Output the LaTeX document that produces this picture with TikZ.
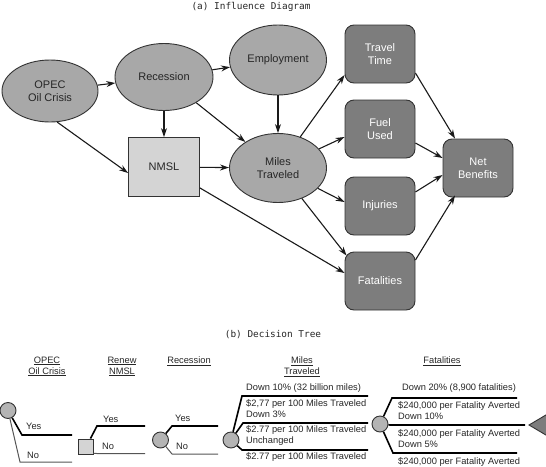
\documentclass[tikz,border=0pt]{standalone}
\usepackage{fontspec}
\setmainfont{Liberation Sans}
\newfontfamily\titlefont{DejaVu Sans Mono}
\usetikzlibrary{shapes.geometric,arrows.meta,calc}
\definecolor{ellfill}{HTML}{A8A8A8}
\definecolor{boxfill}{HTML}{7D7D7D}
\definecolor{nmslfill}{HTML}{D4D4D4}
\definecolor{chfill}{HTML}{B4B4B4}
\definecolor{edgec}{HTML}{333333}
\definecolor{arrc}{HTML}{1A1A1A}
\definecolor{textdark}{HTML}{262626}
\definecolor{nol}{HTML}{555555}
\begin{document}
\begin{tikzpicture}[x=1pt,y=-1pt,
  ell/.style={ellipse,draw=edgec,line width=0.9pt,fill=ellfill,inner sep=0pt,align=center,
    font=\fontsize{11}{13}\selectfont,text=textdark},
  rbox/.style={rectangle,rounded corners=9pt,draw=edgec,line width=0.9pt,fill=boxfill,
    minimum width=70pt,minimum height=58pt,inner sep=0pt,align=center,text=white,
    font=\fontsize{11}{13}\selectfont},
  arr/.style={-{Stealth[length=9pt,width=6pt]},line width=1.1pt,draw=arrc},
  ttl/.style={font=\titlefont\fontsize{9.4}{10}\selectfont,text=textdark,inner sep=0pt},
  hdr/.style={font=\fontsize{9.3}{11}\selectfont,align=center,inner sep=0pt,text=textdark},
  tl/.style={font=\fontsize{9.3}{11}\selectfont,align=left,anchor=west,inner sep=0pt,text=textdark},
  chance/.style={circle,draw=edgec,line width=0.9pt,fill=chfill,minimum size=16pt,inner sep=0pt},
  decis/.style={rectangle,draw=edgec,line width=0.9pt,fill=nmslfill,minimum size=15pt,inner sep=0pt},
  yesl/.style={line width=1.6pt,draw=black},
  nolin/.style={line width=1pt,draw=nol}]
\useasboundingbox (0,0) rectangle (546,466);

% ---------- (a) influence diagram ----------
\node[ttl] (ta) at (251,7) {(a) Influence Diagram};

\node[ell,minimum width=96pt,minimum height=62pt] (opec) at (50,91) {OPEC\\Oil Crisis};
\node[ell,minimum width=98pt,minimum height=67pt] (rec) at (164,77) {Recession};
\node[ell,minimum width=97pt,minimum height=70pt] (emp) at (278,60) {Employment};
\node[ell,minimum width=97pt,minimum height=69pt] (miles) at (278,168) {Miles\\Traveled};
\node[rectangle,draw=edgec,line width=0.9pt,fill=nmslfill,minimum width=71pt,minimum height=59pt,
  inner sep=0pt,text=textdark,font=\fontsize{11}{13}\selectfont] (nmsl) at (164,167) {NMSL};
\node[rbox] (tt) at (380,54) {Travel\\Time};
\node[rbox] (fuel) at (380,129) {Fuel\\Used};
\node[rbox] (inj) at (380,206) {Injuries};
\node[rbox] (fat) at (380,281) {Fatalities};
\node[rbox] (net) at (478,168) {Net\\Benefits};

\draw[arr] (opec) -- (rec);
\draw[arr] (opec.-77) -- ($(nmsl.west)+(0,6)$);
\draw[arr] (rec) -- (nmsl);
\draw[arr] (rec) -- (emp);
\draw[arr] (rec) -- (miles);
\draw[arr] (emp) -- (miles);
\draw[arr] (nmsl) -- (miles);
\draw[arr] ($(nmsl.south east)+(0,-9)$) -- ($(fat.west)+(0,-8)$);
\draw[arr] (miles) -- ($(tt.west)+(0,21)$);
\draw[arr] (miles) -- ($(fuel.west)+(0,8)$);
\draw[arr] (miles) -- ($(inj.west)+(0,-4)$);
\draw[arr] (miles) -- ($(fat.north west)+(2,4)$);
\draw[arr] ($(tt.east)+(0,19)$) -- ($(net.north)+(-23,0)$);
\draw[arr] ($(fuel.east)+(0,14)$) -- ($(net.west)+(0,-10)$);
\draw[arr] ($(inj.east)+(0,-14)$) -- ($(net.west)+(0,7)$);
\draw[arr] ($(fat.east)+(0,-21)$) -- ($(net.south)+(-23,-2)$);

% ---------- (b) decision tree ----------
\node[ttl] (tb) at (273,335) {(b) Decision Tree};

\node[hdr] (h1) at (47,366.5) {\underline{OPEC}\\\underline{Oil Crisis}};
\node[hdr] (h2) at (122,366.5) {\underline{Renew}\\\underline{NMSL}};
\node[hdr] (h3) at (189,361) {\underline{Recession}};
\node[hdr] (h4) at (302,366.5) {\underline{Miles}\\\underline{Traveled}};
\node[hdr] (h5) at (442,361) {\underline{Fatalities}};

% OPEC chance node
\node[chance] (c1) at (8,410.5) {};
\coordinate (c1a) at (22,435); \coordinate (c1b) at (72,435);
\coordinate (c1c) at (20,462); \coordinate (c1d) at (72,462);
\draw[yesl] (c1) -- (c1a) -- (c1b);
\draw[nolin] (c1) -- (c1c) -- (c1d);
\node[tl] (y1) at (26,426) {Yes};
\node[tl] (n1) at (27,455) {No};

% NMSL decision node
\node[decis] (d1) at (85.5,446.5) {};
\coordinate (d1a) at (97,426); \coordinate (d1b) at (145,426);
\coordinate (d1c) at (97,453.5); \coordinate (d1d) at (145,453.5);
\draw[yesl] ($(d1.north east)+(-3,0)$) -- (d1a) -- (d1b);
\draw[nolin] ($(d1.south east)+(0,-1)$) -- (d1c) -- (d1d);
\node[tl] (y2) at (103,419) {Yes};
\node[tl] (n2) at (102,446) {No};

% Recession chance node
\node[chance] (c2) at (160.5,440) {};
\coordinate (c2a) at (172,426); \coordinate (c2b) at (218,426);
\coordinate (c2c) at (172,454); \coordinate (c2d) at (218,454);
\draw[yesl] (c2) -- (c2a) -- (c2b);
\draw[nolin] (c2) -- (c2c) -- (c2d);
\node[tl] (y3) at (175,418) {Yes};
\node[tl] (n3) at (176,446) {No};

% Miles traveled chance node
\node[chance] (c3) at (231,440) {};
\coordinate (c3a) at (242,396); \coordinate (c3b) at (368,396);
\coordinate (c3c) at (243,423); \coordinate (c3d) at (368,423);
\coordinate (c3e) at (242,450); \coordinate (c3f) at (368,450);
\draw[yesl] (c3) -- (c3a) -- (c3b);
\draw[yesl] (c3) -- (c3c) -- (c3d);
\draw[yesl] (c3) -- (c3e) -- (c3f);
\node[tl] (m1) at (246,388) {Down 10\% (32 billion miles)};
\node[tl] (m2) at (246,409) {\$2,77 per 100 Miles Traveled\\Down 3\%};
\node[tl] (m3) at (246,436) {\$2.77 per 100 Miles Traveled\\Unchanged};
\node[tl] (m4) at (246,457) {\$2.77 per 100 Miles Traveled};

% Fatalities chance node
\node[chance] (c4) at (380,424) {};
\coordinate (c4a) at (392,398); \coordinate (c4b) at (517,398);
\coordinate (c4c) at (390,425); \coordinate (c4d) at (525,425);
\coordinate (c4e) at (393,453); \coordinate (c4f) at (517,453);
\draw[yesl] (c4) -- (c4a) -- (c4b);
\draw[yesl] (c4) -- (c4c) -- (c4d);
\draw[yesl] (c4) -- (c4e) -- (c4f);
\node[tl] (f1) at (402,388) {Down 20\% (8,900 fatalities)};
\node[tl] (f2) at (398,410.5) {\$240,000 per Fatality Averted\\Down 10\%};
\node[tl] (f3) at (398,438.5) {\$240,000 per Fatality Averted\\Down 5\%};
\node[tl] (f4) at (398,462) {\$240,000 per Fatality Averted};

% terminal triangle
\begin{scope}
\clip (0,0) rectangle (546,466);
\draw[draw=edgec,line width=0.9pt,fill=boxfill] (529,425) -- (556,409) -- (556,441) -- cycle;
\end{scope}
\end{tikzpicture}
\end{document}
